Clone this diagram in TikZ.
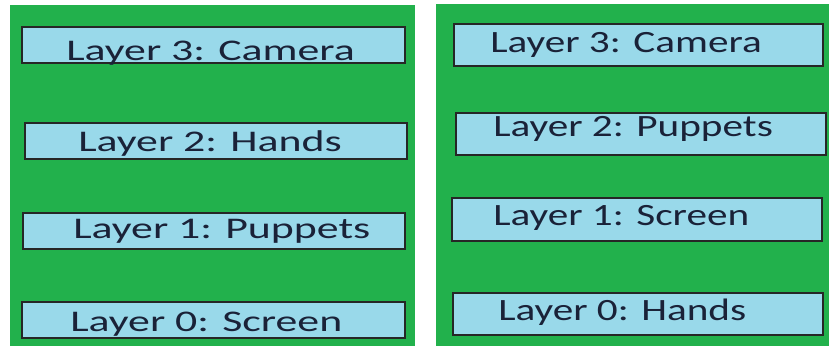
\documentclass[tikz,border=0pt]{standalone}
\usepackage{fontspec}
\setmainfont{Carlito}
\usepackage{xcolor}
\definecolor{panelgreen}{RGB}{34,177,76}
\definecolor{boxblue}{RGB}{153,217,234}
\definecolor{labelink}{RGB}{26,34,56}

\begin{document}
\begin{tikzpicture}[x=1pt,y=-1pt,
  layerbox/.style={draw=black!85,line width=1.8pt,fill=boxblue,inner sep=0pt},
  lefttext/.style={font=\fontsize{30}{32}\selectfont,text=labelink,anchor=base west,inner sep=0pt,xscale=1.46},
  righttext/.style={font=\fontsize{31}{33}\selectfont,text=labelink,anchor=base west,inner sep=0pt,xscale=1.33}]
\useasboundingbox (0,0) rectangle (829,348);
\fill[white] (0,0) rectangle (829,348);
\fill[panelgreen] (10,5) rectangle (415,346);
\fill[panelgreen] (436,4) rectangle (829,346);
% left panel
\node[layerbox,minimum width=383,minimum height=36] (leftcam) at (213.5,45) {};
\node[lefttext] (leftcamtxt) at (66,60) {Layer 3: Camera};
\node[layerbox,minimum width=382,minimum height=36.6] (lefthands) at (215.7,141) {};
\node[lefttext] (lefthandstxt) at (78,151.7) {Layer 2: Hands};
\node[layerbox,minimum width=382,minimum height=36] (leftpup) at (213.8,231) {};
\node[lefttext] (leftpuptxt) at (73,238) {Layer 1: Puppets};
\node[layerbox,minimum width=383,minimum height=36] (leftscr) at (213.5,320) {};
\node[lefttext] (leftscrtxt) at (70,331) {Layer 0: Screen};
% right panel
\node[layerbox,minimum width=369,minimum height=42] (rightcam) at (638.5,45) {};
\node[righttext] (rightcamtxt) at (490,52) {Layer 3: Camera};
\node[layerbox,minimum width=369.7,minimum height=42.3] (rightpup) at (640.8,133.8) {};
\node[righttext] (rightpuptxt) at (493,136.7) {Layer 2: Puppets};
\node[layerbox,minimum width=369.7,minimum height=42.7] (rightscr) at (636.8,219.7) {};
\node[righttext] (rightscrtxt) at (493,225) {Layer 1: Screen};
\node[layerbox,minimum width=370,minimum height=42] (righthands) at (638,314) {};
\node[righttext] (righthandstxt) at (498,320) {Layer 0: Hands};
\end{tikzpicture}
\end{document}
